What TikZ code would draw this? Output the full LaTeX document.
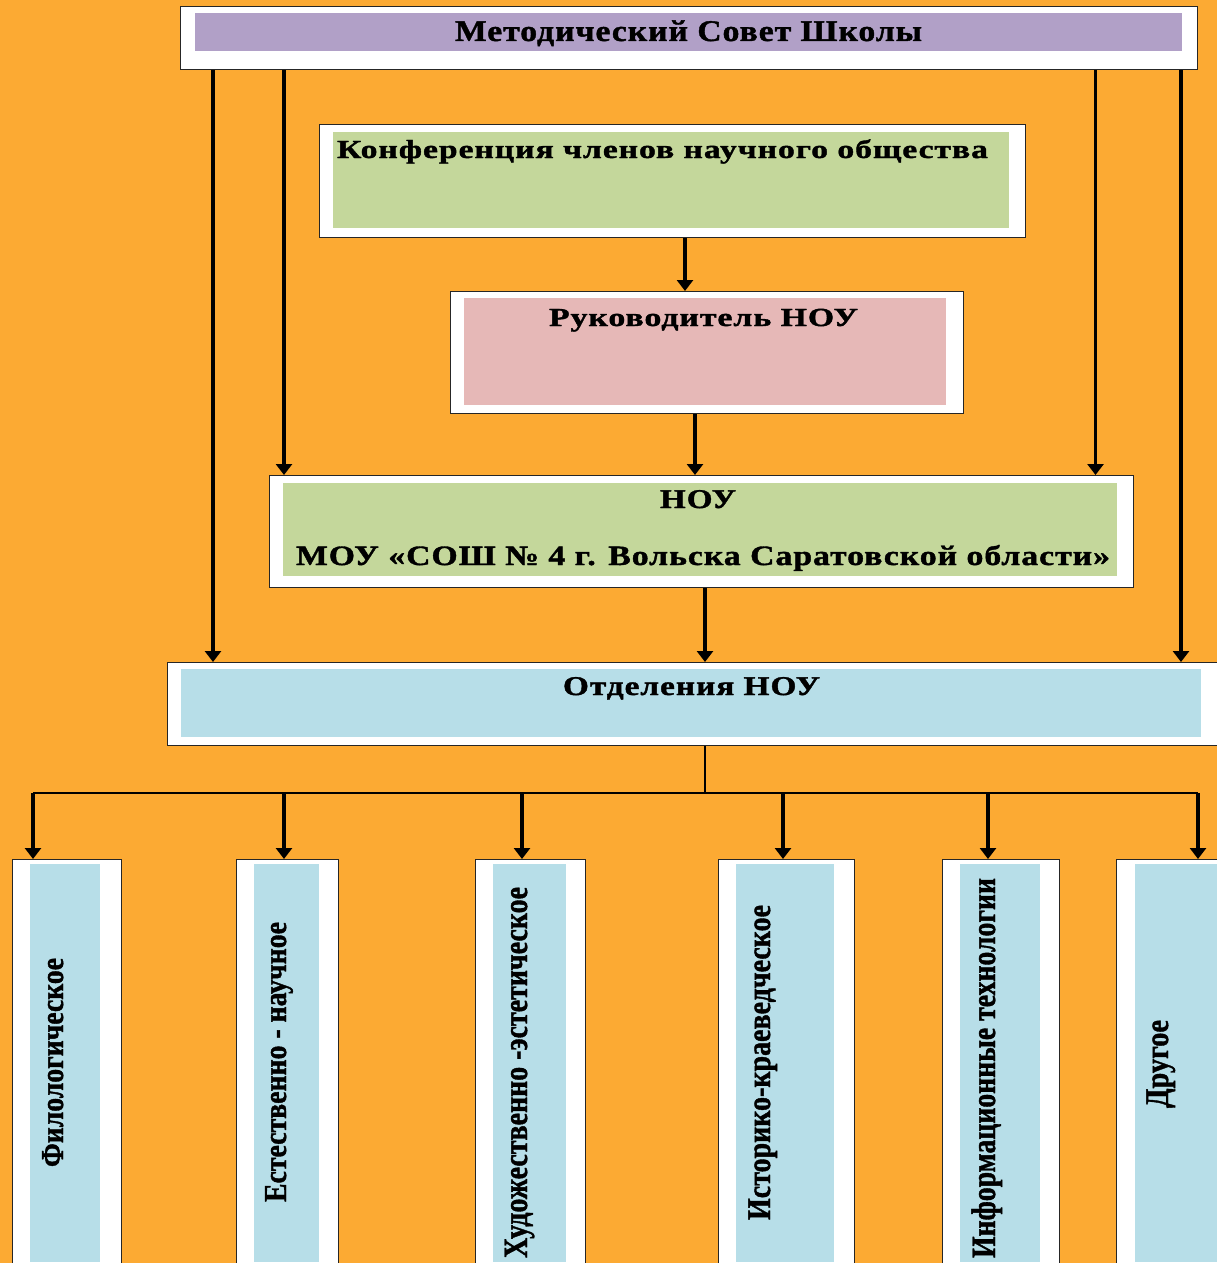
\documentclass[tikz,border=0pt]{standalone}
\usepackage{fontspec}
\setmainfont{Liberation Serif}
\usetikzlibrary{arrows.meta}
\definecolor{bgor}{RGB}{252,170,51}
\definecolor{purp}{RGB}{177,160,199}
\definecolor{grn}{RGB}{196,215,155}
\definecolor{pnk}{RGB}{230,184,183}
\definecolor{blu}{RGB}{183,222,232}
\newcommand{\fitw}[3]{\resizebox{#1}{\height}{\fontsize{#2}{#2}\selectfont\bfseries\addfontfeature{FakeBold=1.3}#3}}
\newcommand{\fitls}[3]{\resizebox{#1}{\height}{\fontsize{#2}{#2}\selectfont\bfseries\addfontfeature{LetterSpace=3,FakeBold=1.3}#3}}
\tikzset{
  outerbox/.style={draw=black!85, line width=1.3pt, fill=white, inner sep=0pt, anchor=north west},
  innerbox/.style={draw=none, inner sep=0pt, anchor=north west},
  arr/.style={line width=3.2pt, -{Triangle[length=11pt,width=16pt]}},
  bus/.style={line width=1.4pt},
  txt/.style={inner sep=0pt, text=black},
}
\begin{document}
\begin{tikzpicture}[x=1pt,y=-1pt]
\useasboundingbox (0,0) rectangle (1217,1263);
\clip (0,0) rectangle (1217,1263);
\fill[bgor] (0,0) rectangle (1217,1263);

% Методический Совет
\node[outerbox, minimum width=1017pt, minimum height=63pt] (ms) at (180,6) {};
\node[innerbox, fill=purp, minimum width=987pt, minimum height=38pt] (msi) at (195,13) {};
\node[txt, anchor=base] (tms) at (688.5,41) {\fitls{467pt}{30}{Методический Совет Школы}};

% Конференция
\node[outerbox, minimum width=706pt, minimum height=113pt] (kf) at (319,124) {};
\node[innerbox, fill=grn, minimum width=676pt, minimum height=96pt] (kfi) at (333,132) {};
\node[txt, anchor=base] (tkf) at (662.5,158) {\fitls{651pt}{26}{Конференция членов научного общества}};

% Руководитель
\node[outerbox, minimum width=513pt, minimum height=122pt] (rk) at (450,291) {};
\node[innerbox, fill=pnk, minimum width=482pt, minimum height=107pt] (rki) at (464,298) {};
\node[txt, anchor=base] (trk) at (703.5,326) {\fitls{309pt}{26}{Руководитель НОУ}};

% НОУ
\node[outerbox, minimum width=864pt, minimum height=112pt] (nou) at (269,475) {};
\node[innerbox, fill=grn, minimum width=834pt, minimum height=93pt] (noui) at (283,483) {};
\node[txt, anchor=base] (tnou1) at (698,508) {\fitls{76pt}{27}{НОУ}};
\node[txt, anchor=base] (tnou2) at (703,565) {\fitls{814pt}{28}{МОУ «СОШ № 4 г. Вольска Саратовской области»}};

% Отделения
\node[outerbox, minimum width=1060pt, minimum height=83pt] (otd) at (167,662) {};
\node[innerbox, fill=blu, minimum width=1020pt, minimum height=68pt] (otdi) at (181,669) {};
\node[txt, anchor=base] (totd) at (691.5,695) {\fitls{257pt}{27}{Отделения НОУ}};

% bottom boxes
\node[outerbox, minimum width=109pt, minimum height=420pt] (fa) at (12,859) {};
\node[innerbox, fill=blu, minimum width=70pt, minimum height=398pt] (fai) at (30,864) {};
\node[outerbox, minimum width=102pt, minimum height=420pt] (fb) at (236,859) {};
\node[innerbox, fill=blu, minimum width=65pt, minimum height=398pt] (fbi) at (254,864) {};
\node[outerbox, minimum width=110pt, minimum height=420pt] (fc) at (475,859) {};
\node[innerbox, fill=blu, minimum width=73pt, minimum height=398pt] (fci) at (493,864) {};
\node[outerbox, minimum width=136pt, minimum height=420pt] (fd) at (718,859) {};
\node[innerbox, fill=blu, minimum width=98pt, minimum height=398pt] (fdi) at (736,864) {};
\node[outerbox, minimum width=117pt, minimum height=420pt] (fe) at (942,859) {};
\node[innerbox, fill=blu, minimum width=80pt, minimum height=398pt] (fei) at (960,864) {};
\node[outerbox, minimum width=114pt, minimum height=420pt] (ff) at (1116,859) {};
\node[innerbox, fill=blu, minimum width=95pt, minimum height=398pt] (ffi) at (1135,864) {};

\node[txt, rotate=90, anchor=base] (ta) at (63,1062.5) {\fitw{209pt}{32}{Филологическое}};
\node[txt, rotate=90, anchor=base] (tb) at (286,1062) {\fitw{280pt}{32}{Естественно - научное}};
\node[txt, rotate=90, anchor=base] (tc) at (527,1072.5) {\fitw{371pt}{34}{Художественно -эстетическое}};
\node[txt, rotate=90, anchor=base] (td) at (770,1062.5) {\fitw{315pt}{33}{Историко-краеведческое}};
\node[txt, rotate=90, anchor=base] (te) at (995,1068) {\fitw{380pt}{34}{Информационные технологии}};
\node[txt, rotate=90, anchor=base] (tf) at (1168,1064) {\fitw{88pt}{33}{Другое}};

% column coordinates
\coordinate (x1) at (213,0);
\coordinate (x2) at (284,0);
\coordinate (x3) at (1095.5,0);
\coordinate (x4) at (1181,0);
\coordinate (xk) at (685,0);
\coordinate (xr) at (695,0);
\coordinate (xn) at (705,0);
\coordinate (busL) at (33,793);
\coordinate (busR) at (1198,793);
\coordinate (busM) at (705,793);
\coordinate (bb) at (284,793);
\coordinate (bc) at (522,793);
\coordinate (bd) at (783,793);
\coordinate (be) at (988,793);

% connectors
\draw[arr] (ms.south -| x1) -- (otd.north -| x1);
\draw[arr] (ms.south -| x2) -- (nou.north -| x2);
\draw[arr] (ms.south -| x3) -- (nou.north -| x3);
\draw[arr] (ms.south -| x4) -- (otd.north -| x4);
\draw[arr] (kf.south -| xk) -- (rk.north -| xk);
\draw[arr] (rk.south -| xr) -- (nou.north -| xr);
\draw[arr] (nou.south -| xn) -- (otd.north -| xn);
\draw[bus] (otd.south -| xn) -- (busM);
\draw[bus] (busL) -- (busR);
\draw[arr] (busL) -- (fa.north -| busL);
\draw[arr] (bb) -- (fb.north -| bb);
\draw[arr] (bc) -- (fc.north -| bc);
\draw[arr] (bd) -- (fd.north -| bd);
\draw[arr] (be) -- (fe.north -| be);
\draw[arr] (busR) -- (ff.north -| busR);
\end{tikzpicture}
\end{document}
